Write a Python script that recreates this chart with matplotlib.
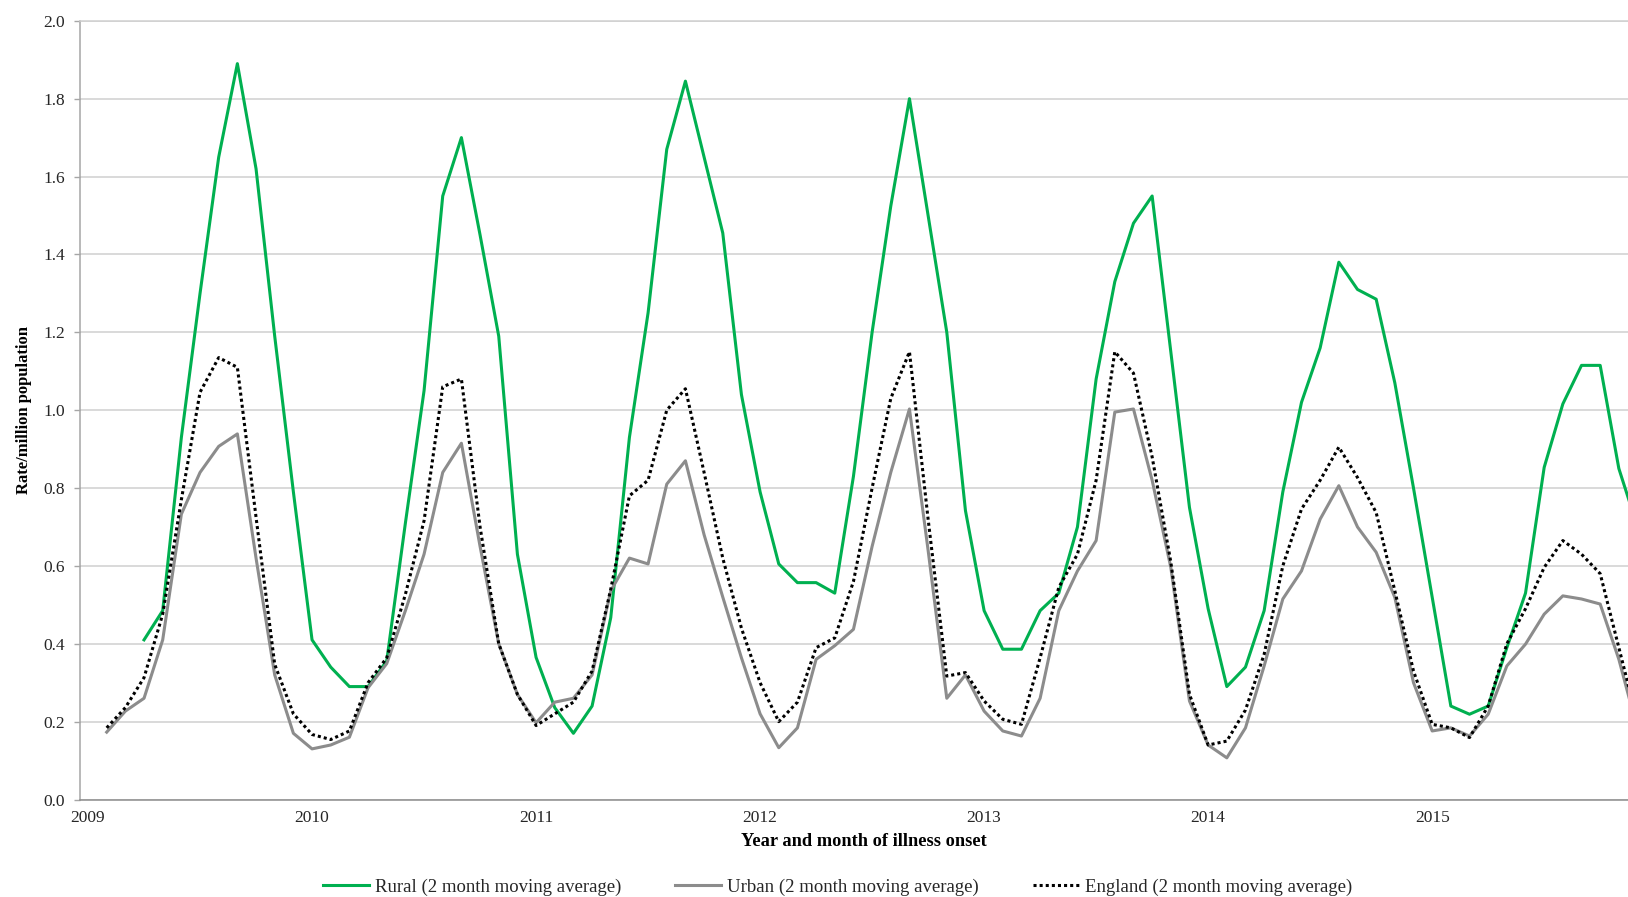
import numpy as np
import pandas as pd
import matplotlib
matplotlib.use("Agg")
import matplotlib.pyplot as plt

# monthly 2 month moving averages, Feb 2009 - Dec 2015
months = pd.date_range("2009-02-01", "2015-12-01", freq="MS")

rural = [np.nan, np.nan, 0.41, 0.485, 0.93, 1.30, 1.65, 1.89, 1.62, 1.19, 0.79,
         0.41, 0.34, 0.29, 0.29, 0.356, 0.71, 1.05, 1.55, 1.70, 1.45, 1.19, 0.63,
         0.365, 0.236, 0.17, 0.24, 0.467, 0.93, 1.25, 1.67, 1.845, 1.65, 1.455, 1.04, 0.79,
         0.605, 0.557, 0.557, 0.53, 0.83, 1.20, 1.524, 1.80, 1.50, 1.20, 0.742, 0.485,
         0.386, 0.386, 0.485, 0.53, 0.70, 1.08, 1.33, 1.48, 1.55, 1.15, 0.75, 0.49,
         0.29, 0.34, 0.485, 0.79, 1.02, 1.16, 1.38, 1.31, 1.285, 1.07, 0.80, 0.52,
         0.24, 0.219, 0.24, 0.39, 0.53, 0.853, 1.016, 1.115, 1.115, 0.85, 0.70]

urban = [0.173, 0.227, 0.26, 0.41, 0.733, 0.84, 0.907, 0.939, 0.62, 0.32, 0.17,
         0.13, 0.14, 0.16, 0.287, 0.349, 0.485, 0.63, 0.84, 0.915, 0.65, 0.40, 0.27,
         0.197, 0.25, 0.26, 0.32, 0.536, 0.62, 0.605, 0.81, 0.87, 0.68, 0.52, 0.364, 0.22,
         0.133, 0.184, 0.36, 0.395, 0.437, 0.65, 0.84, 1.003, 0.64, 0.26, 0.32, 0.227,
         0.176, 0.163, 0.26, 0.485, 0.587, 0.665, 0.995, 1.003, 0.82, 0.596, 0.253, 0.14,
         0.107, 0.184, 0.343, 0.515, 0.587, 0.72, 0.806, 0.70, 0.635, 0.519, 0.30, 0.176,
         0.184, 0.163, 0.219, 0.343, 0.399, 0.476, 0.523, 0.515, 0.502, 0.36, 0.18]

england = [0.184, 0.236, 0.313, 0.476, 0.77, 1.046, 1.135, 1.11, 0.725, 0.347, 0.22,
           0.167, 0.154, 0.176, 0.30, 0.364, 0.527, 0.716, 1.06, 1.08, 0.70, 0.40, 0.27,
           0.19, 0.22, 0.25, 0.33, 0.54, 0.78, 0.82, 1.00, 1.055, 0.84, 0.62, 0.44, 0.30,
           0.20, 0.25, 0.39, 0.415, 0.56, 0.80, 1.03, 1.15, 0.72, 0.317, 0.326, 0.253,
           0.206, 0.193, 0.364, 0.545, 0.63, 0.82, 1.15, 1.095, 0.88, 0.61, 0.27, 0.14,
           0.15, 0.23, 0.373, 0.60, 0.746, 0.82, 0.905, 0.827, 0.737, 0.536, 0.33, 0.193,
           0.184, 0.159, 0.24, 0.40, 0.49, 0.596, 0.665, 0.63, 0.58, 0.39, 0.20]

yearLabels = ["2009", "2010", "2011", "2012", "2013", "2014", "2015"]
yTicks = [0.0, 0.2, 0.4, 0.6, 0.8, 1.0, 1.2, 1.4, 1.6, 1.8, 2.0]
names = ["Rural (2 month moving average)", "Urban (2 month moving average)",
         "England (2 month moving average)"]

plt.rcParams["font.family"] = ["Liberation Serif", "DejaVu Serif"]

monthIndex = (months.year - 2009) * 12 + months.month - 1
yearPos = [12 * i for i in range(len(yearLabels))]

W, H = 1628, 897
fig = plt.figure(figsize=(W / 100, H / 100), dpi=100)
ax = fig.add_axes([80 / W, 1 - 799.5 / H, 1548 / W, 778.7 / H])

ln1 = ax.plot(monthIndex, rural, color="#00B050", lw=2.2, label=names[0])
ln2 = ax.plot(monthIndex, urban, color="#8c8c8c", lw=2.2, label=names[1])
ln3 = ax.plot(monthIndex, england, color="black", lw=2.2, ls=(0, (1, 1)), label=names[2])

ax.set_xlim(-0.43, 82.49)
ax.set_ylim(0, 2.0)
ax.set_yticks(yTicks)
ax.set_yticklabels(["%.1f" % v for v in yTicks])
ax.set_xticks(yearPos)
ax.set_xticklabels(yearLabels)

ax.set_axisbelow(True)
ax.yaxis.grid(True, color="#d0d0d0", lw=1.1)
ax.spines["right"].set_visible(False)
ax.spines["top"].set_color("#d0d0d0")
ax.spines["top"].set_linewidth(1.1)
ax.spines["left"].set_color("#a6a6a6")
ax.spines["left"].set_linewidth(1.1)
ax.spines["bottom"].set_color("#8c8c8c")
ax.spines["bottom"].set_linewidth(1.1)

ax.tick_params(axis="y", length=4.3, width=1, color="#a6a6a6", pad=6.5,
               labelsize=12.5, labelcolor="#262626")
ax.tick_params(axis="x", length=0, pad=7.5, labelsize=12.5, labelcolor="#262626")

fig.text(24 / W, 1 - 410 / H, "Rate/million population", rotation=90, fontsize=12,
         fontweight="bold", ha="center", va="center", color="black")
fig.text(864 / W, 1 - 841 / H, "Year and month of illness onset", fontsize=13.2,
         fontweight="bold", ha="center", va="center", color="black")

lns = ln1 + ln2 + ln3
labs = [l.get_label() for l in lns]
fig.legend(lns, labs, loc="center", bbox_to_anchor=(837.5 / W, 1 - 887 / H), ncol=3,
           frameon=False, fontsize=13.5, handlelength=2.45, handletextpad=0.3,
           columnspacing=2.9, labelcolor="#262626")

fig.savefig("out.png", dpi=100)
